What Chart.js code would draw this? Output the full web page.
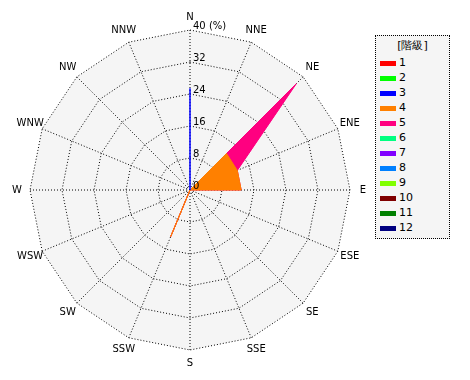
<!DOCTYPE html>
<html>
<head>
<meta charset="utf-8">
<script src="https://cdn.jsdelivr.net/npm/chart.js@4/dist/chart.umd.min.js"></script>
<style>
    body { margin: 0; background: #fff; }
    #wrap { position: relative; width: 470px; height: 380px; }
    #legend {
        position: absolute; left: 375px; top: 35px; width: 75px; height: 204px;
        border: 1px dotted #000; background: #f5f5f5; box-sizing: border-box;
        font: 11px "DejaVu Sans", sans-serif; color: #000;
    }
    #legend .ttl { text-align: center; margin-top: 2px; height: 17px; color: #000; }
    #legend .row { height: 15px; line-height: 15px; padding-left: 4px; }
    #legend .sw { display: inline-block; width: 16px; height: 5px; margin-right: 3px; vertical-align: middle; }
</style>
</head>
<body>
<div id="wrap">
    <canvas id="rose" width="470" height="380"></canvas>
    <div id="legend"></div>
</div>
<script>
const directions = ["N", "NNE", "NE", "ENE", "E", "ESE", "SE", "SSE", "S", "SSW", "SW", "WSW", "W", "WNW", "NW", "NNW"];
const classNames = ["1", "2", "3", "4", "5", "6", "7", "8", "9", "10", "11", "12"];
const classColors = ["#ff0000", "#00ff00", "#0000ff", "#ff8000", "#ff0080", "#00ff80",
                     "#8000ff", "#0080ff", "#80ff00", "#800000", "#008000", "#000080"];

// frequency (%) per direction
const class3 = [25.4, 0, 0, 0, 0, 0, 0, 0, 0, 0, 0, 0, 0, 0, 0, 0];
const class4 = [0, 0, 12.9, 12.8, 12.8, 0, 0, 0, 0, 12.6, 0, 0, 0, 0, 0, 0];
const class5 = [0, 0, 24.7, 0, 0, 0, 0, 0, 0, 0, 0, 0, 0, 0, 0, 0];

const tickValues = [0, 8, 16, 24, 32, 40];
const tickLabels = ["0", "8", "16", "24", "32", "40 (%)"];

// legend
const legendEl = document.getElementById("legend");
legendEl.innerHTML = '<div class="ttl">[階級]</div>' + classNames.map((n, i) =>
    `<div class="row"><span class="sw" style="background:${classColors[i]}"></span>${n}</div>`).join("");

// stacked outline for class 5 sits on top of class 4
const stack5 = class4.map((v, i) => v + class5[i]);

const labelPlugin = {
    id: "roseLabels",
    afterDraw(chart) {
        const scale = chart.scales.r;
        const ctx = chart.ctx;
        ctx.save();
        ctx.fillStyle = "#000";
        ctx.font = '10px "DejaVu Sans", sans-serif';
        ctx.textAlign = "center";
        ctx.textBaseline = "middle";
        directions.forEach((d, i) => {
            const p = scale.getPointPosition(i, scale.drawingArea + 13);
            ctx.fillText(d, p.x, p.y);
        });
        ctx.textAlign = "left";
        tickValues.forEach((v, i) => {
            const y = scale.yCenter - scale.getDistanceFromCenterForValue(v);
            ctx.fillText(tickLabels[i], scale.xCenter + 3, y - 4);
        });
        ctx.restore();
    }
};

function ds(label, data, color) {
    return {
        label: label,
        data: data,
        borderColor: color,
        backgroundColor: color,
        borderWidth: 1,
        fill: "origin",
        pointRadius: 0,
        tension: 0
    };
}

// first dataset is drawn on top
new Chart(document.getElementById("rose").getContext("2d"), {
    type: "radar",
    data: {
        labels: directions,
        datasets: [
            ds("3", class3, classColors[2]),
            ds("4", class4, classColors[3]),
            ds("5", stack5, classColors[4])
        ]
    },
    options: {
        responsive: false,
        animation: false,
        layout: { padding: { left: 30, top: 30, right: 120, bottom: 30 } },
        plugins: { legend: { display: false }, tooltip: { enabled: false } },
        scales: {
            r: {
                min: 0,
                max: 40,
                backgroundColor: "#f5f5f5",
                ticks: { stepSize: 8, display: false },
                grid: { color: "#000", lineWidth: 1 },
                border: { dash: [1, 2] },
                angleLines: { color: "#000", lineWidth: 1, borderDash: [1, 2] },
                pointLabels: { display: false }
            }
        }
    },
    plugins: [labelPlugin]
});
</script>
</body>
</html>
